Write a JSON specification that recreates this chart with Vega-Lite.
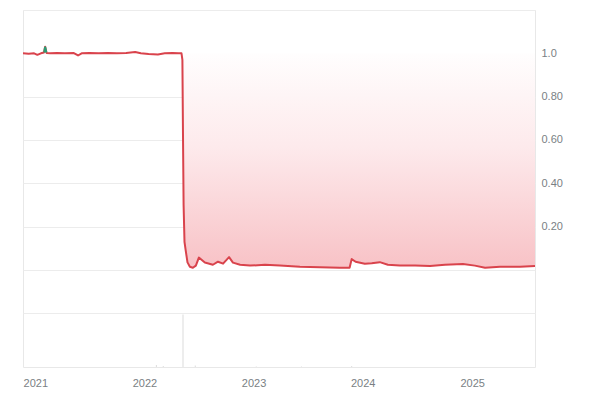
{
  "$schema": "https://vega.github.io/schema/vega-lite/v6.json",
  "width": 512,
  "height": 357,
  "padding": {"left": 23, "top": 10, "right": 65, "bottom": 33},
  "autosize": {"type": "none"},
  "background": "#ffffff",
  "config": {
    "view": {"stroke": "#e8e8e8", "strokeWidth": 1},
    "font": "Liberation Sans"
  },
  "datasets": {
    "price": [
      {"date": "2020-11-21", "price": 1.0},
      {"date": "2020-12-10", "price": 0.998},
      {"date": "2020-12-28", "price": 1.0},
      {"date": "2021-01-08", "price": 0.993},
      {"date": "2021-01-20", "price": 1.0},
      {"date": "2021-01-30", "price": 1.004},
      {"date": "2021-02-03", "price": 1.03},
      {"date": "2021-02-08", "price": 1.002},
      {"date": "2021-02-20", "price": 1.0},
      {"date": "2021-03-15", "price": 1.002},
      {"date": "2021-04-10", "price": 1.0},
      {"date": "2021-05-10", "price": 1.001},
      {"date": "2021-05-24", "price": 0.99},
      {"date": "2021-06-05", "price": 1.0},
      {"date": "2021-07-01", "price": 1.001},
      {"date": "2021-08-01", "price": 1.0},
      {"date": "2021-09-01", "price": 1.002},
      {"date": "2021-10-01", "price": 1.0},
      {"date": "2021-11-01", "price": 1.002},
      {"date": "2021-12-01", "price": 1.006},
      {"date": "2021-12-20", "price": 1.0},
      {"date": "2022-01-15", "price": 0.997},
      {"date": "2022-02-15", "price": 0.995},
      {"date": "2022-03-10", "price": 1.0},
      {"date": "2022-04-05", "price": 1.002},
      {"date": "2022-04-25", "price": 1.0},
      {"date": "2022-05-05", "price": 1.0},
      {"date": "2022-05-08", "price": 0.97},
      {"date": "2022-05-10", "price": 0.62},
      {"date": "2022-05-12", "price": 0.3},
      {"date": "2022-05-15", "price": 0.13},
      {"date": "2022-05-19", "price": 0.09},
      {"date": "2022-05-25", "price": 0.035},
      {"date": "2022-06-02", "price": 0.015},
      {"date": "2022-06-12", "price": 0.01},
      {"date": "2022-06-22", "price": 0.02},
      {"date": "2022-07-02", "price": 0.057},
      {"date": "2022-07-22", "price": 0.034},
      {"date": "2022-08-18", "price": 0.024},
      {"date": "2022-09-04", "price": 0.038},
      {"date": "2022-09-21", "price": 0.029},
      {"date": "2022-10-11", "price": 0.059},
      {"date": "2022-10-24", "price": 0.034},
      {"date": "2022-11-17", "price": 0.024},
      {"date": "2022-12-20", "price": 0.02},
      {"date": "2023-02-08", "price": 0.024},
      {"date": "2023-03-30", "price": 0.02},
      {"date": "2023-06-05", "price": 0.015},
      {"date": "2023-08-11", "price": 0.013},
      {"date": "2023-10-16", "price": 0.01},
      {"date": "2023-11-18", "price": 0.01},
      {"date": "2023-11-25", "price": 0.05},
      {"date": "2023-12-08", "price": 0.038},
      {"date": "2024-01-08", "price": 0.029},
      {"date": "2024-01-31", "price": 0.031},
      {"date": "2024-02-27", "price": 0.036},
      {"date": "2024-03-25", "price": 0.024},
      {"date": "2024-05-04", "price": 0.02},
      {"date": "2024-06-24", "price": 0.02},
      {"date": "2024-08-13", "price": 0.018},
      {"date": "2024-10-02", "price": 0.024},
      {"date": "2024-12-01", "price": 0.027},
      {"date": "2025-01-10", "price": 0.02},
      {"date": "2025-02-13", "price": 0.01},
      {"date": "2025-04-04", "price": 0.015},
      {"date": "2025-06-10", "price": 0.015},
      {"date": "2025-07-30", "price": 0.018}
    ],
    "up": [
      {"date": "2021-01-31", "price": 1.004},
      {"date": "2021-02-03", "price": 1.03},
      {"date": "2021-02-07", "price": 1.004}
    ],
    "vol": [
      {"date": "2022-02-10", "volume": 4},
      {"date": "2022-03-05", "volume": 2},
      {"date": "2022-05-10", "volume": 100},
      {"date": "2022-06-20", "volume": 3},
      {"date": "2023-01-10", "volume": 1},
      {"date": "2023-06-10", "volume": 1},
      {"date": "2023-11-25", "volume": 2}
    ]
  },
  "encoding": {
    "x": {
      "field": "date", "type": "temporal",
      "scale": {"domain": ["2020-11-21", "2025-07-30"], "padding": 0},
      "axis": {
        "values": ["2021-01-01", "2022-01-01", "2023-01-01", "2024-01-01", "2025-01-01"],
        "format": "%Y", "title": null, "domain": false, "ticks": false, "grid": false,
        "labelColor": "#7a7f84", "labelFontSize": 11, "labelPadding": 10, "labelFlush": false
      }
    }
  },
  "layer": [
    {
      "layer": [
        {
          "data": {"name": "price"},
          "mark": {
            "type": "area",
            "fill": {
              "gradient": "linear",
              "x1": 0, "y1": 0, "x2": 0, "y2": 1,
              "stops": [
                {"offset": 0, "color": "#ffffff"},
                {"offset": 0.45, "color": "#fdeaec"},
                {"offset": 1, "color": "#f8c2c6"}
              ]
            }
          },
          "encoding": {
            "y": {
              "field": "price", "type": "quantitative",
              "scale": {"domain": [-0.448, 1.2], "nice": false, "zero": false},
              "axis": {
                "orient": "right",
                "values": [-0.2, 0, 0.2, 0.4, 0.6, 0.8, 1.0, 1.2],
                "labelExpr": "datum.value > 0.99 && datum.value < 1.01 ? '1.0' : (datum.value > 0.1 && datum.value < 0.9 ? format(datum.value, '.2f') : '')",
                "title": null, "domain": false, "ticks": false,
                "gridColor": {"condition": {"test": "datum.value > 0.99 && datum.value < 1.01", "value": "transparent"}, "value": "#ececec"},
                "labelColor": "#7a7f84", "labelFontSize": 11, "labelPadding": 6, "labelAlign": "left"
              }
            },
            "y2": {"datum": 1}
          }
        },
        {
          "mark": {"type": "rule", "stroke": "#b5b5b5", "strokeDash": [1, 2], "strokeWidth": 1},
          "encoding": {"y": {"datum": 1, "type": "quantitative"}}
        },
        {
          "data": {"name": "price"},
          "mark": {"type": "line", "color": "#d9434c", "strokeWidth": 2, "strokeJoin": "round"},
          "encoding": {
            "y": {"field": "price", "type": "quantitative"}
          }
        },
        {
          "data": {"name": "up"},
          "mark": {"type": "line", "color": "#2a9d74", "strokeWidth": 2},
          "encoding": {
            "y": {"field": "price", "type": "quantitative"}
          }
        }
      ]
    },
    {
      "data": {"name": "vol"},
      "mark": {"type": "bar", "color": "#dcdcdc", "width": 1},
      "encoding": {
        "y": {"field": "volume", "type": "quantitative", "scale": {"domain": [0, 680], "nice": false}, "axis": null}
      }
    }
  ],
  "resolve": {"scale": {"y": "independent"}}
}
